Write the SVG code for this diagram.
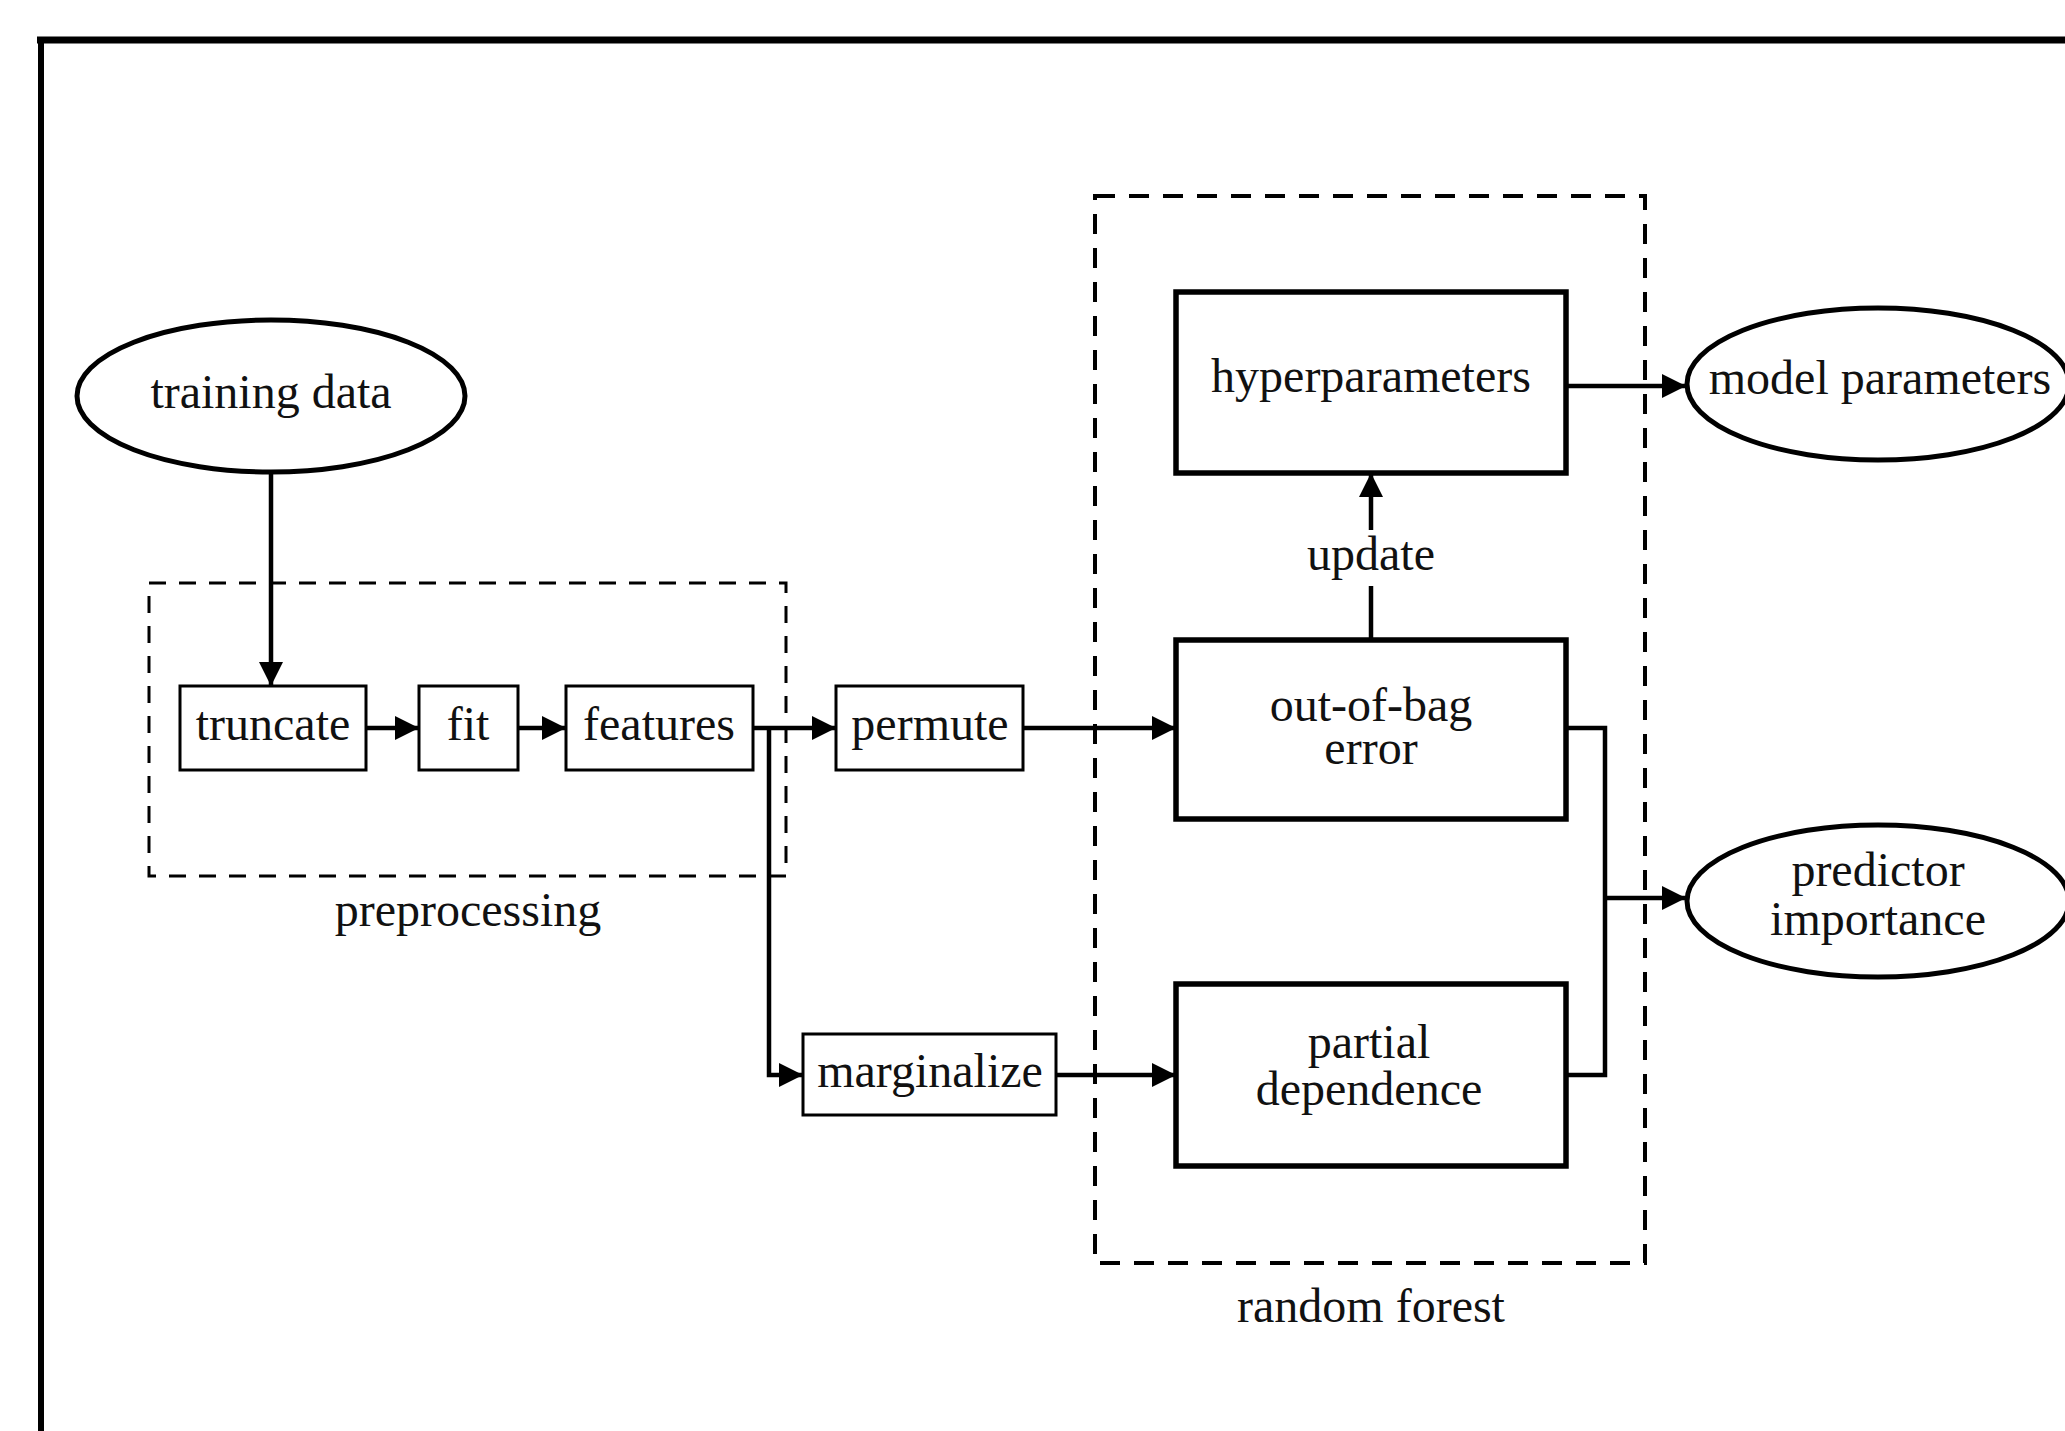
<svg xmlns="http://www.w3.org/2000/svg" width="2065" height="1431" viewBox="0 0 2065 1431">
<defs>
<marker id="ah" markerUnits="userSpaceOnUse" markerWidth="26" markerHeight="26" viewBox="0 0 26 26" refX="25" refY="13" orient="auto">
<path d="M1,1 L25,13 L1,25 Z" fill="#000"/>
</marker>
</defs>
<style>
text{font-family:"Liberation Serif","Times New Roman",serif;font-size:48px;fill:#111;text-anchor:middle}
.sm{fill:#fff;stroke:#000;stroke-width:3}
.lg{fill:#fff;stroke:#000;stroke-width:5.5}
.el{fill:#fff;stroke:#000;stroke-width:5}
.dash1{fill:none;stroke:#000;stroke-width:3;stroke-dasharray:17 13}
.dash2{fill:none;stroke:#000;stroke-width:4;stroke-dasharray:20 14}
.c{fill:none;stroke:#000;stroke-width:4.5}
.a{marker-end:url(#ah)}
</style>
<rect width="2065" height="1431" fill="#fff"/>
<g id="frame">
<line x1="37" y1="40" x2="2065" y2="40" stroke="#000" stroke-width="7"/>
<line x1="41" y1="37" x2="41" y2="1431" stroke="#000" stroke-width="6"/>
</g>
<g id="preprocessing-group">
<rect class="dash1" x="149" y="583" width="637" height="293"/>
<text x="468" y="926">preprocessing</text>
</g>
<g id="random-forest-group">
<rect class="dash2" x="1095" y="196" width="550" height="1067"/>
<text x="1371" y="1322">random forest</text>
</g>
<g id="connectors">
<line class="c a" x1="271" y1="472" x2="271" y2="686"/>
<line class="c a" x1="366" y1="728" x2="419" y2="728"/>
<line class="c a" x1="518" y1="728" x2="566" y2="728"/>
<line class="c a" x1="753" y1="728" x2="836" y2="728"/>
<path class="c a" d="M769,728 V1075 H803"/>
<line class="c a" x1="1023" y1="728" x2="1176" y2="728"/>
<line class="c a" x1="1056" y1="1075" x2="1176" y2="1075"/>
<line class="c" x1="1371" y1="640" x2="1371" y2="586"/>
<line class="c a" x1="1371" y1="530" x2="1371" y2="473"/>
<line class="c a" x1="1566" y1="386" x2="1686" y2="386"/>
<path class="c" d="M1566,728 H1605 V1075 H1566"/>
<line class="c a" x1="1605" y1="898" x2="1686" y2="898"/>
<text x="1371" y="570">update</text>
</g>
<g id="training-data">
<ellipse class="el" cx="271" cy="396" rx="194" ry="76"/>
<text x="271" y="408">training data</text>
</g>
<g id="truncate">
<rect class="sm" x="180" y="686" width="186" height="84"/>
<text x="273" y="740">truncate</text>
</g>
<g id="fit">
<rect class="sm" x="419" y="686" width="99" height="84"/>
<text x="468" y="740">fit</text>
</g>
<g id="features">
<rect class="sm" x="566" y="686" width="187" height="84"/>
<text x="659" y="740">features</text>
</g>
<g id="permute">
<rect class="sm" x="836" y="686" width="187" height="84"/>
<text x="930" y="740">permute</text>
</g>
<g id="marginalize">
<rect class="sm" x="803" y="1034" width="253" height="81"/>
<text x="930" y="1087">marginalize</text>
</g>
<g id="hyperparameters">
<rect class="lg" x="1176" y="292" width="390" height="181"/>
<text x="1371" y="392">hyperparameters</text>
</g>
<g id="out-of-bag-error">
<rect class="lg" x="1176" y="640" width="390" height="179"/>
<text x="1371" y="721">out-of-bag</text>
<text x="1371" y="764">error</text>
</g>
<g id="partial-dependence">
<rect class="lg" x="1176" y="984" width="390" height="182"/>
<text x="1369" y="1058">partial</text>
<text x="1369" y="1105">dependence</text>
</g>
<g id="model-parameters">
<ellipse class="el" cx="1878" cy="384" rx="191" ry="76"/>
<text x="1880" y="394">model parameters</text>
</g>
<g id="predictor-importance">
<ellipse class="el" cx="1878" cy="901" rx="191" ry="76"/>
<text x="1878" y="886">predictor</text>
<text x="1878" y="935">importance</text>
</g>
</svg>
